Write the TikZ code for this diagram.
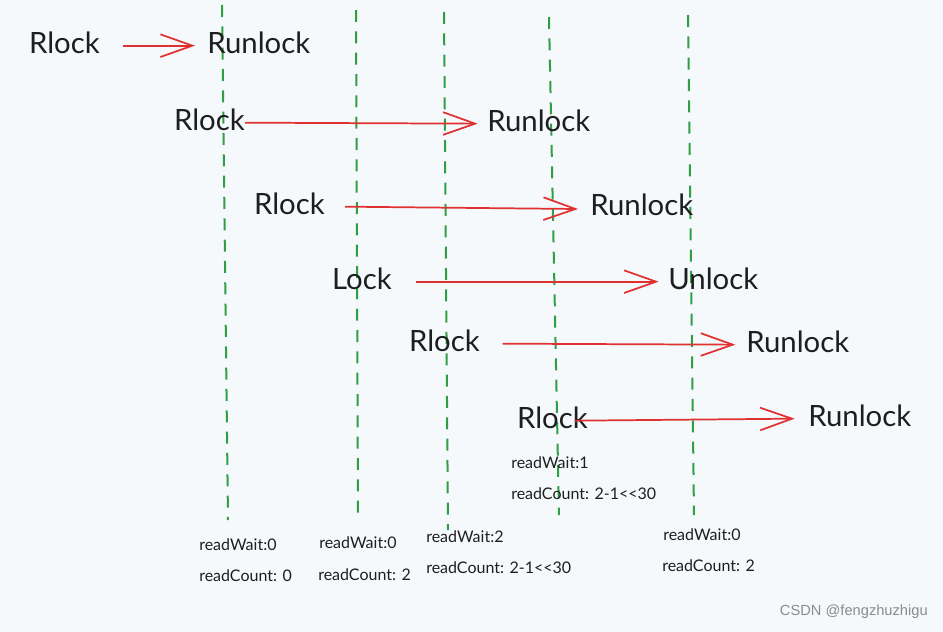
\documentclass[tikz,border=0pt]{standalone}
\usepackage{fontspec}
\setmainfont{Lato}
\newfontfamily\wmfont{Liberation Sans}
\usetikzlibrary{arrows.meta}
\definecolor{bgc}{HTML}{F5F9FC}
\definecolor{ink}{HTML}{1E1E1E}
\definecolor{redc}{HTML}{E03131}
\definecolor{greenc}{HTML}{2F9E44}
\tikzset{
  word/.style={inner sep=0pt, text=ink, font=\fontsize{22}{25}\selectfont},
  lbl/.style={inner sep=0pt, anchor=west, text=ink, font=\fontsize{12}{14}\selectfont},
  guide/.style={draw=greenc, line width=1.5pt, dash pattern=on 9pt off 7pt},
  flow/.style={draw=redc, line width=1.3pt, -{Straight Barb[length=24pt,width=17pt,line width=1.3pt]}},
}
\begin{document}
\begin{tikzpicture}[x=0.75pt,y=-0.75pt]
\fill[bgc] (0,0) rectangle (943,632);
\useasboundingbox (0,0) rectangle (943,632);
% guides
\draw[guide] (222,5) -- (228,520);
\draw[guide] (356,10) -- (358,520);
\draw[guide] (444,12) -- (448,530);
\draw[guide] (549,17) -- (559,515);
\draw[guide] (688,15) -- (694,515);
% row 1
\node[word, anchor=east] (a1) at (100,43) {Rlock};
\node[word, anchor=west] (b1) at (207,43) {Runlock};
\draw[flow] ([xshift=17pt,yshift=-2pt]a1.east) -- ([xshift=-9pt,yshift=-2pt]b1.west);
% row 2
\node[word, anchor=east] (a2) at (245,120) {Rlock};
\node[word, anchor=west] (b2) at (487,121) {Runlock};
\draw[flow] ([yshift=-2pt]a2.east) -- ([xshift=-7pt,yshift=-2pt]b2.west);
% row 3
\node[word, anchor=east] (a3) at (325,204) {Rlock};
\node[word, anchor=west] (b3) at (590,205) {Runlock};
\draw[flow] ([xshift=15pt,yshift=-2pt]a3.east) -- ([xshift=-9pt,yshift=-3pt]b3.west);
% row 4
\node[word, anchor=east] (a4) at (392,279) {Lock};
\node[word, anchor=west] (b4) at (668,279) {Unlock};
\draw[flow] ([xshift=18pt,yshift=-2pt]a4.east) -- ([xshift=-7pt,yshift=-2pt]b4.west);
% row 5
\node[word, anchor=east] (a5) at (480,341) {Rlock};
\node[word, anchor=west] (b5) at (746,342) {Runlock};
\draw[flow] ([xshift=17pt,yshift=-2pt]a5.east) -- ([xshift=-8pt,yshift=-2pt]b5.west);
% row 6
\node[word, anchor=east] (a6) at (588,418) {Rlock};
\node[word, anchor=west] (b6) at (808,416) {Runlock};
\draw[flow] ([xshift=-10pt,yshift=-2pt]a6.east) -- ([xshift=-10pt,yshift=-2pt]b6.west);
% labels
\node[lbl] (w6) at (511,463) {readWait:1};
\node[lbl] (c6) at (511,494) {readCount: 2-1{<}{<}30};
\node[lbl] (w1) at (199,545) {readWait:0};
\node[lbl] (c1) at (199,576) {readCount: 0};
\node[lbl] (w2) at (319,543) {readWait:0};
\node[lbl] (c2) at (318,575) {readCount: 2};
\node[lbl] (w3) at (426,537) {readWait:2};
\node[lbl] (c3) at (426,568) {readCount: 2-1{<}{<}30};
\node[lbl] (w5) at (663,535) {readWait:0};
\node[lbl] (c5) at (662,566) {readCount: 2};
% watermark
\node[inner sep=0pt, anchor=east, text=black!45, font=\wmfont\fontsize{11}{13}\selectfont] (wm) at (928,612) {CSDN @fengzhuzhigu};
\end{tikzpicture}
\end{document}
